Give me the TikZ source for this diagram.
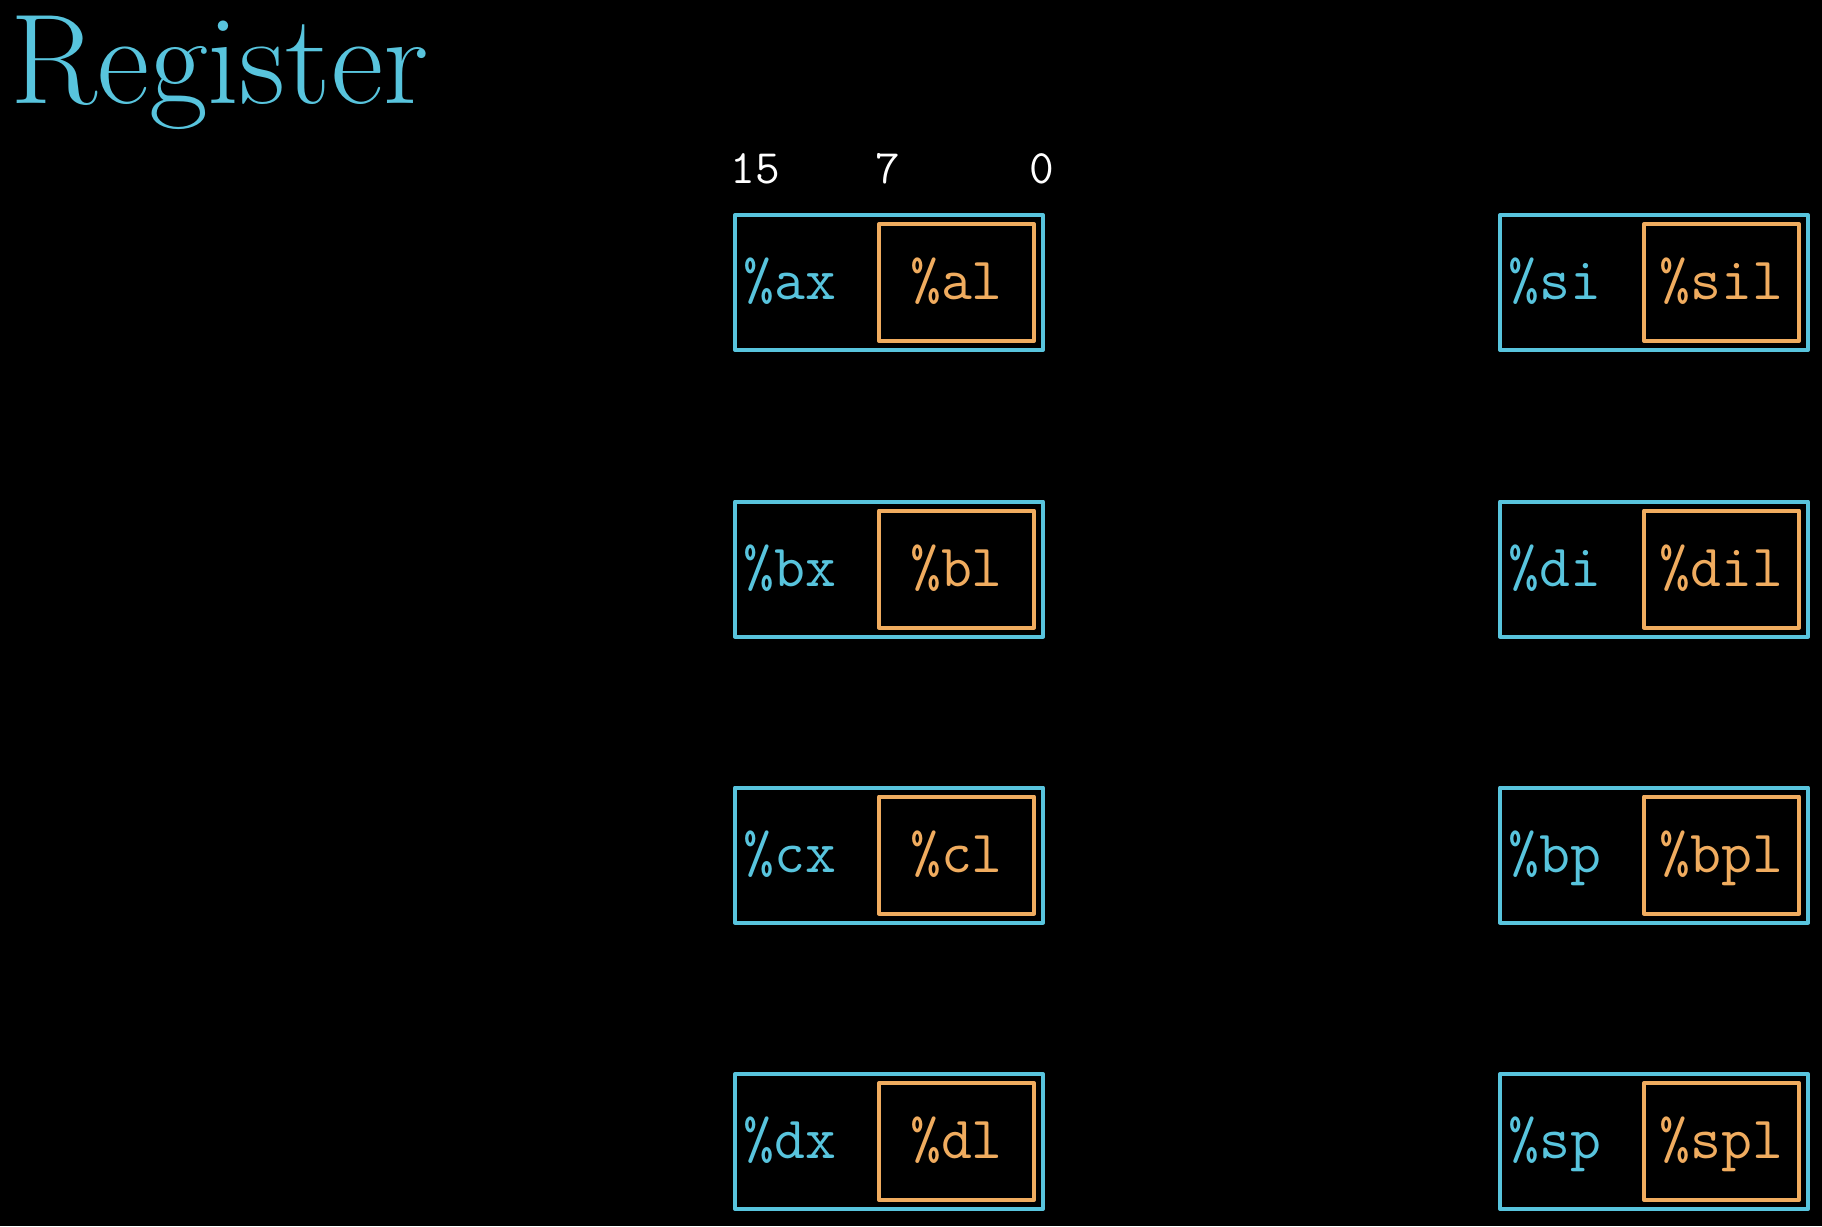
\documentclass[tikz,border=0pt]{standalone}
\definecolor{regblue}{HTML}{58C4DD}
\definecolor{reggold}{HTML}{F0AC5F}
\begin{document}
\begin{tikzpicture}[x=1pt,y=-1pt,
  outerbox/.style={draw=regblue,line width=4pt,line join=round,minimum width=308pt,minimum height=135pt,inner sep=0pt},
  innerbox/.style={draw=reggold,line width=4pt,line join=round,minimum width=155pt,minimum height=117pt,inner sep=0pt},
  bigreg/.style={text=regblue,font=\fontsize{60}{60}\selectfont\ttfamily,anchor=base west,inner sep=0pt},
  smallreg/.style={text=reggold,font=\fontsize{60}{60}\selectfont\ttfamily,anchor=base,inner sep=0pt},
  bitnum/.style={text=white,font=\fontsize{48}{48}\selectfont\ttfamily,anchor=base,inner sep=0pt}]
\fill[black] (0,0) rectangle (1822,1226);
\useasboundingbox (0,0) rectangle (1822,1226);
\node[text=regblue,font=\fontsize{128}{128}\selectfont,anchor=base west,inner sep=0pt] (title) at (10,103) {Register};
\node[bitnum] (b15) at (755,183) {15};
\node[bitnum] (b7) at (888,183) {7};
\node[bitnum] (b0) at (1042,183) {0};
\foreach \nm/\sm/\xc/\yc in {ax/al/889/282.5, bx/bl/889/569, cx/cl/889/855, dx/dl/889/1141.5,
                             si/sil/1654/282.5, di/dil/1654/569, bp/bpl/1654/855, sp/spl/1654/1141.5}{
  \node[outerbox] (box\nm) at (\xc,\yc) {};
  \node[innerbox] (box\sm) at (\xc+67.5,\yc) {};
  \node[bigreg] (lab\nm) at (\xc-146,\yc+17) {\%\nm};
  \node[smallreg] (lab\sm) at (\xc+67.5,\yc+17) {\%\sm};
}
\end{tikzpicture}
\end{document}
